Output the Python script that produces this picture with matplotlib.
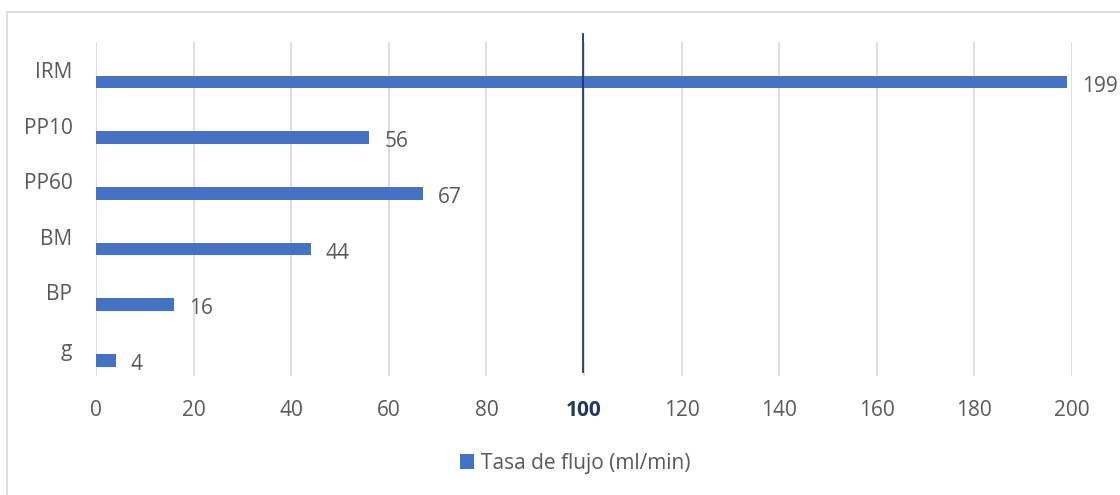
import numpy as np
import matplotlib.pyplot as plt
from matplotlib.patches import Rectangle

# flow rate per sample
categories = ["IRM", "PP10", "PP60", "BM", "BP", "g"]
flow_rates = [199, 56, 67, 44, 16, 4]
x_ticks = [0, 20, 40, 60, 80, 100, 120, 140, 160, 180, 200]
reference_value = 100

bar_color = "#4472C4"
text_color = "#595959"
ref_color = "#1F3864"

plt.rcParams["font.family"] = ["Open Sans", "DejaVu Sans"]

fig = plt.figure(figsize=(11.2, 4.95), dpi=100)
ax = fig.add_axes([96 / 1120, 1 - 376 / 495, (1072 - 96) / 1120, 334 / 495])

# chart frame
fig.patches.append(Rectangle((7 / 1120, -0.1), 1.2, 1 - 12 / 495 + 0.1,
                             transform=fig.transFigure, fill=False,
                             edgecolor="#D9D9D9", linewidth=1.2))

y = np.arange(len(categories))
bars = ax.barh(y + 0.22, flow_rates, height=0.23, color=bar_color,
               label="Tasa de flujo (ml/min)", zorder=3)

for yi, v in zip(y, flow_rates):
    ax.annotate(str(v), (v, yi + 0.22), xytext=(11, -3), textcoords="offset points",
                ha="left", va="center", fontsize=15, color=text_color)

ax.axvline(reference_value - 0.3, ymin=0.012, ymax=1.024, color=ref_color,
           linewidth=1.3, zorder=4, clip_on=False)

ax.set_xlim(0, 200)
ax.set_ylim(len(categories) - 0.5, -0.5)
ax.set_xticks(x_ticks)
ax.set_yticks(y)
ax.set_yticklabels(categories)
ax.grid(axis="x", color="#D9D9D9", linewidth=1.2, zorder=0)
ax.tick_params(axis="both", length=0, labelsize=15, labelcolor=text_color)
ax.tick_params(axis="x", pad=17)
ax.tick_params(axis="y", pad=17)
for s in ax.spines.values():
    s.set_visible(False)

for lbl in ax.get_xticklabels():
    if lbl.get_text() == str(reference_value):
        lbl.set_fontweight("bold")
        lbl.set_color(ref_color)

leg = fig.legend(handles=[bars], labels=["Tasa de flujo (ml/min)"],
                 loc="center", bbox_to_anchor=(575 / 1120, 1 - 463 / 495),
                 frameon=False, fontsize=15, handlelength=0.7, handleheight=0.7,
                 handletextpad=0.3)
for t in leg.get_texts():
    t.set_color(text_color)

fig.savefig("out.png", dpi=100)
